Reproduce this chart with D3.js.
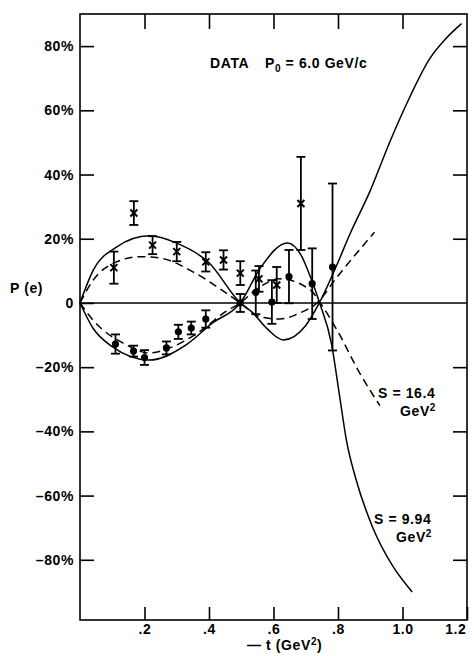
<!DOCTYPE html>
<html>
<head>
<meta charset="utf-8">
<script src="https://cdn.jsdelivr.net/npm/d3@7"></script>
<style>
  body { margin: 0; background: #fff; }
  svg { font-family: "Liberation Sans", Arial, sans-serif; font-weight: bold; }
  .axis path { display: none; }
  .axis line { stroke: #000; stroke-width: 1.6; }
  .axis text { font-size: 14px; font-weight: bold; fill: #000; letter-spacing: 0.6px; font-family: "Liberation Sans", Arial, sans-serif; }
  .curve { fill: none; stroke: #000; stroke-width: 1.5; }
  .lbl { letter-spacing: 0.6px; }
</style>
</head>
<body>
<svg id="chart" width="474" height="656"></svg>
<script>
// -t (GeV^2), P (%), error (%)
var crossT   = [0.105, 0.167, 0.225, 0.30, 0.39, 0.445, 0.497, 0.555, 0.61, 0.685];
var crossP   = [11, 28, 18, 16, 12.8, 13.4, 9.3, 7.5, 5.6, 31];
var crossErr = [5, 3.7, 2.8, 3, 3, 3, 3.7, 4, 5.6, 14.5];

var dotT   = [0.11, 0.166, 0.20, 0.268, 0.305, 0.345, 0.39, 0.497, 0.545, 0.595, 0.648, 0.72, 0.783];
var dotP   = [-12.8, -15, -17, -14, -9, -7.8, -5, 0, 3.3, 0.3, 8.2, 6, 11.2];
var dotErr = [3, 1.7, 2.3, 2, 2.2, 2, 2.7, 2.8, 6.8, 6.8, 8.3, 11, 26];

// theory curves, S = 9.94 GeV^2 (solid)
var solidA = [[0,0],[0.04,10],[0.113,17.4],[0.215,20.9],[0.298,18.7],[0.40,12.5],[0.497,0],[0.535,-3],[0.58,-8],[0.63,-11.5],[0.70,-7],[0.742,0],[0.795,11.5],[0.835,21],[0.90,35],[0.96,50],[1.022,64],[1.084,76],[1.136,82.5],[1.183,87]];
var solidB = [[0,0],[0.04,-7.8],[0.10,-13.6],[0.215,-17.8],[0.33,-13],[0.41,-6.3],[0.497,0],[0.56,11],[0.643,18.7],[0.685,15],[0.715,8],[0.743,0],[0.78,-12.8],[0.805,-29],[0.826,-42.7],[0.856,-55],[0.908,-70],[0.97,-82],[1.03,-90]];
// S = 16.4 GeV^2 (dashed)
var dashA = [[0,0],[0.04,7],[0.113,12.8],[0.185,14.4],[0.247,14],[0.35,9.7],[0.43,4.7],[0.497,0],[0.56,-4.4],[0.62,-5],[0.684,-3],[0.735,0],[0.795,7.8],[0.913,22]];
var dashB = [[0,0],[0.04,-5.3],[0.143,-13],[0.215,-15.6],[0.278,-14],[0.37,-9],[0.45,-2.8],[0.497,0],[0.55,4.5],[0.62,7.5],[0.715,4],[0.745,0],[0.80,-9],[0.867,-21.8],[0.93,-32]];

var xTicks = [0.2, 0.4, 0.6, 0.8, 1.0, 1.2];
var xTickLabels = [".2", ".4", ".6", ".8", "1.0", "1.2"];
var yTicks = [-80, -60, -40, -20, 0, 20, 40, 60, 80];

var svg = d3.select("#chart");
var plot = {left: 80, right: 467, top: 14, bottom: 620};

var x = d3.scaleLinear().domain([0, 1.2]).range([plot.left, plot.right]);
var y = d3.scaleLinear().domain([-98.75, 90]).range([plot.bottom, plot.top]);

// frame
svg.append("rect")
    .attr("x", plot.left).attr("y", plot.top)
    .attr("width", plot.right - plot.left).attr("height", plot.bottom - plot.top)
    .attr("fill", "none").attr("stroke", "#000").attr("stroke-width", 1.6);

// ticks pointing inward on all four sides
svg.append("g").attr("class", "axis")
    .attr("transform", "translate(" + plot.left + ",0)")
    .call(d3.axisLeft(y).tickValues(yTicks).tickSize(-14).tickPadding(6)
        .tickFormat(function(d) { return d === 0 ? "0" : (d < 0 ? "\u2013" + (-d) : d) + "%"; }));

svg.append("g").attr("class", "axis")
    .attr("transform", "translate(" + plot.right + ",0)")
    .call(d3.axisRight(y).tickValues(yTicks.filter(function(d) { return d !== 0; })).tickSize(-14).tickFormat(""));

var xAxis = svg.append("g").attr("class", "axis")
    .attr("transform", "translate(0," + plot.bottom + ")")
    .call(d3.axisBottom(x).tickValues(xTicks).tickSize(-13).tickPadding(4)
        .tickFormat(function(d, i) { return xTickLabels[i]; }));
// last label sits inside the frame edge
xAxis.selectAll(".tick text").filter(function(d) { return d === 1.2; })
    .attr("text-anchor", "end").attr("x", -1);

svg.append("g").attr("class", "axis")
    .attr("transform", "translate(0," + plot.top + ")")
    .call(d3.axisTop(x).tickValues(xTicks.slice(0, 5)).tickSize(-15).tickFormat(""));

// zero line
svg.append("line")
    .attr("x1", x(0)).attr("x2", x(1.2))
    .attr("y1", y(0)).attr("y2", y(0))
    .attr("stroke", "#000").attr("stroke-width", 1.6);

// curves
var line = d3.line()
    .x(function(d) { return x(d[0]); })
    .y(function(d) { return y(d[1]); })
    .curve(d3.curveMonotoneX);

[solidA, solidB].forEach(function(c) {
    svg.append("path").datum(c).attr("class", "curve").attr("d", line);
});
[dashA, dashB].forEach(function(c) {
    svg.append("path").datum(c).attr("class", "curve")
        .attr("stroke-dasharray", "8,5").attr("d", line);
});

// error bars
function errorBars(ts, ps, es) {
    var g = svg.append("g").attr("stroke", "#000").attr("stroke-width", 1.8);
    ts.forEach(function(t, i) {
        var cx = x(t), y0 = y(ps[i] - es[i]), y1 = y(ps[i] + es[i]);
        g.append("line").attr("x1", cx).attr("x2", cx).attr("y1", y0).attr("y2", y1);
        g.append("line").attr("x1", cx - 4.5).attr("x2", cx + 4.5).attr("y1", y0).attr("y2", y0);
        g.append("line").attr("x1", cx - 4.5).attr("x2", cx + 4.5).attr("y1", y1).attr("y2", y1);
    });
}
errorBars(crossT, crossP, crossErr);
errorBars(dotT, dotP, dotErr);

// x markers
var xm = svg.append("g").attr("stroke", "#000").attr("stroke-width", 2);
crossT.forEach(function(t, i) {
    var cx = x(t), cy = y(crossP[i]), s = 3.5;
    xm.append("line").attr("x1", cx - s).attr("x2", cx + s).attr("y1", cy - s).attr("y2", cy + s);
    xm.append("line").attr("x1", cx - s).attr("x2", cx + s).attr("y1", cy + s).attr("y2", cy - s);
});

// filled dots
svg.append("g").selectAll("circle")
    .data(dotT)
    .enter().append("circle")
    .attr("cx", function(d) { return x(d); })
    .attr("cy", function(d, i) { return y(dotP[i]); })
    .attr("r", 3.6)
    .attr("fill", "#000");

// labels
var title = svg.append("text").attr("class", "lbl").attr("y", 68).attr("font-size", 14);
title.append("tspan").attr("x", 210).text("DATA");
title.append("tspan").attr("x", 265).text("P");
title.append("tspan").attr("font-size", 10).attr("dy", 4).text("0");
title.append("tspan").attr("dy", -4).text(" = 6.0 GeV/c");

svg.append("text").attr("class", "lbl").attr("x", 10).attr("y", 293).attr("font-size", 14).text("P (e)");

var xt = svg.append("text").attr("class", "lbl").attr("x", 247).attr("y", 650).attr("font-size", 14);
xt.append("tspan").text("\u2014 t  (GeV");
xt.append("tspan").attr("font-size", 10).attr("dy", -5).text("2");
xt.append("tspan").attr("dy", 5).text(")");

function sLabel(sx, sy, txt) {
    svg.append("text").attr("class", "lbl").attr("x", sx).attr("y", sy).attr("font-size", 14).text(txt);
    var g = svg.append("text").attr("class", "lbl").attr("x", sx + 22).attr("y", sy + 18).attr("font-size", 14);
    g.append("tspan").text("GeV");
    g.append("tspan").attr("font-size", 10).attr("dy", -5).text("2");
}
sLabel(378, 398, "S = 16.4");
sLabel(374, 524, "S = 9.94");
</script>
</body>
</html>
